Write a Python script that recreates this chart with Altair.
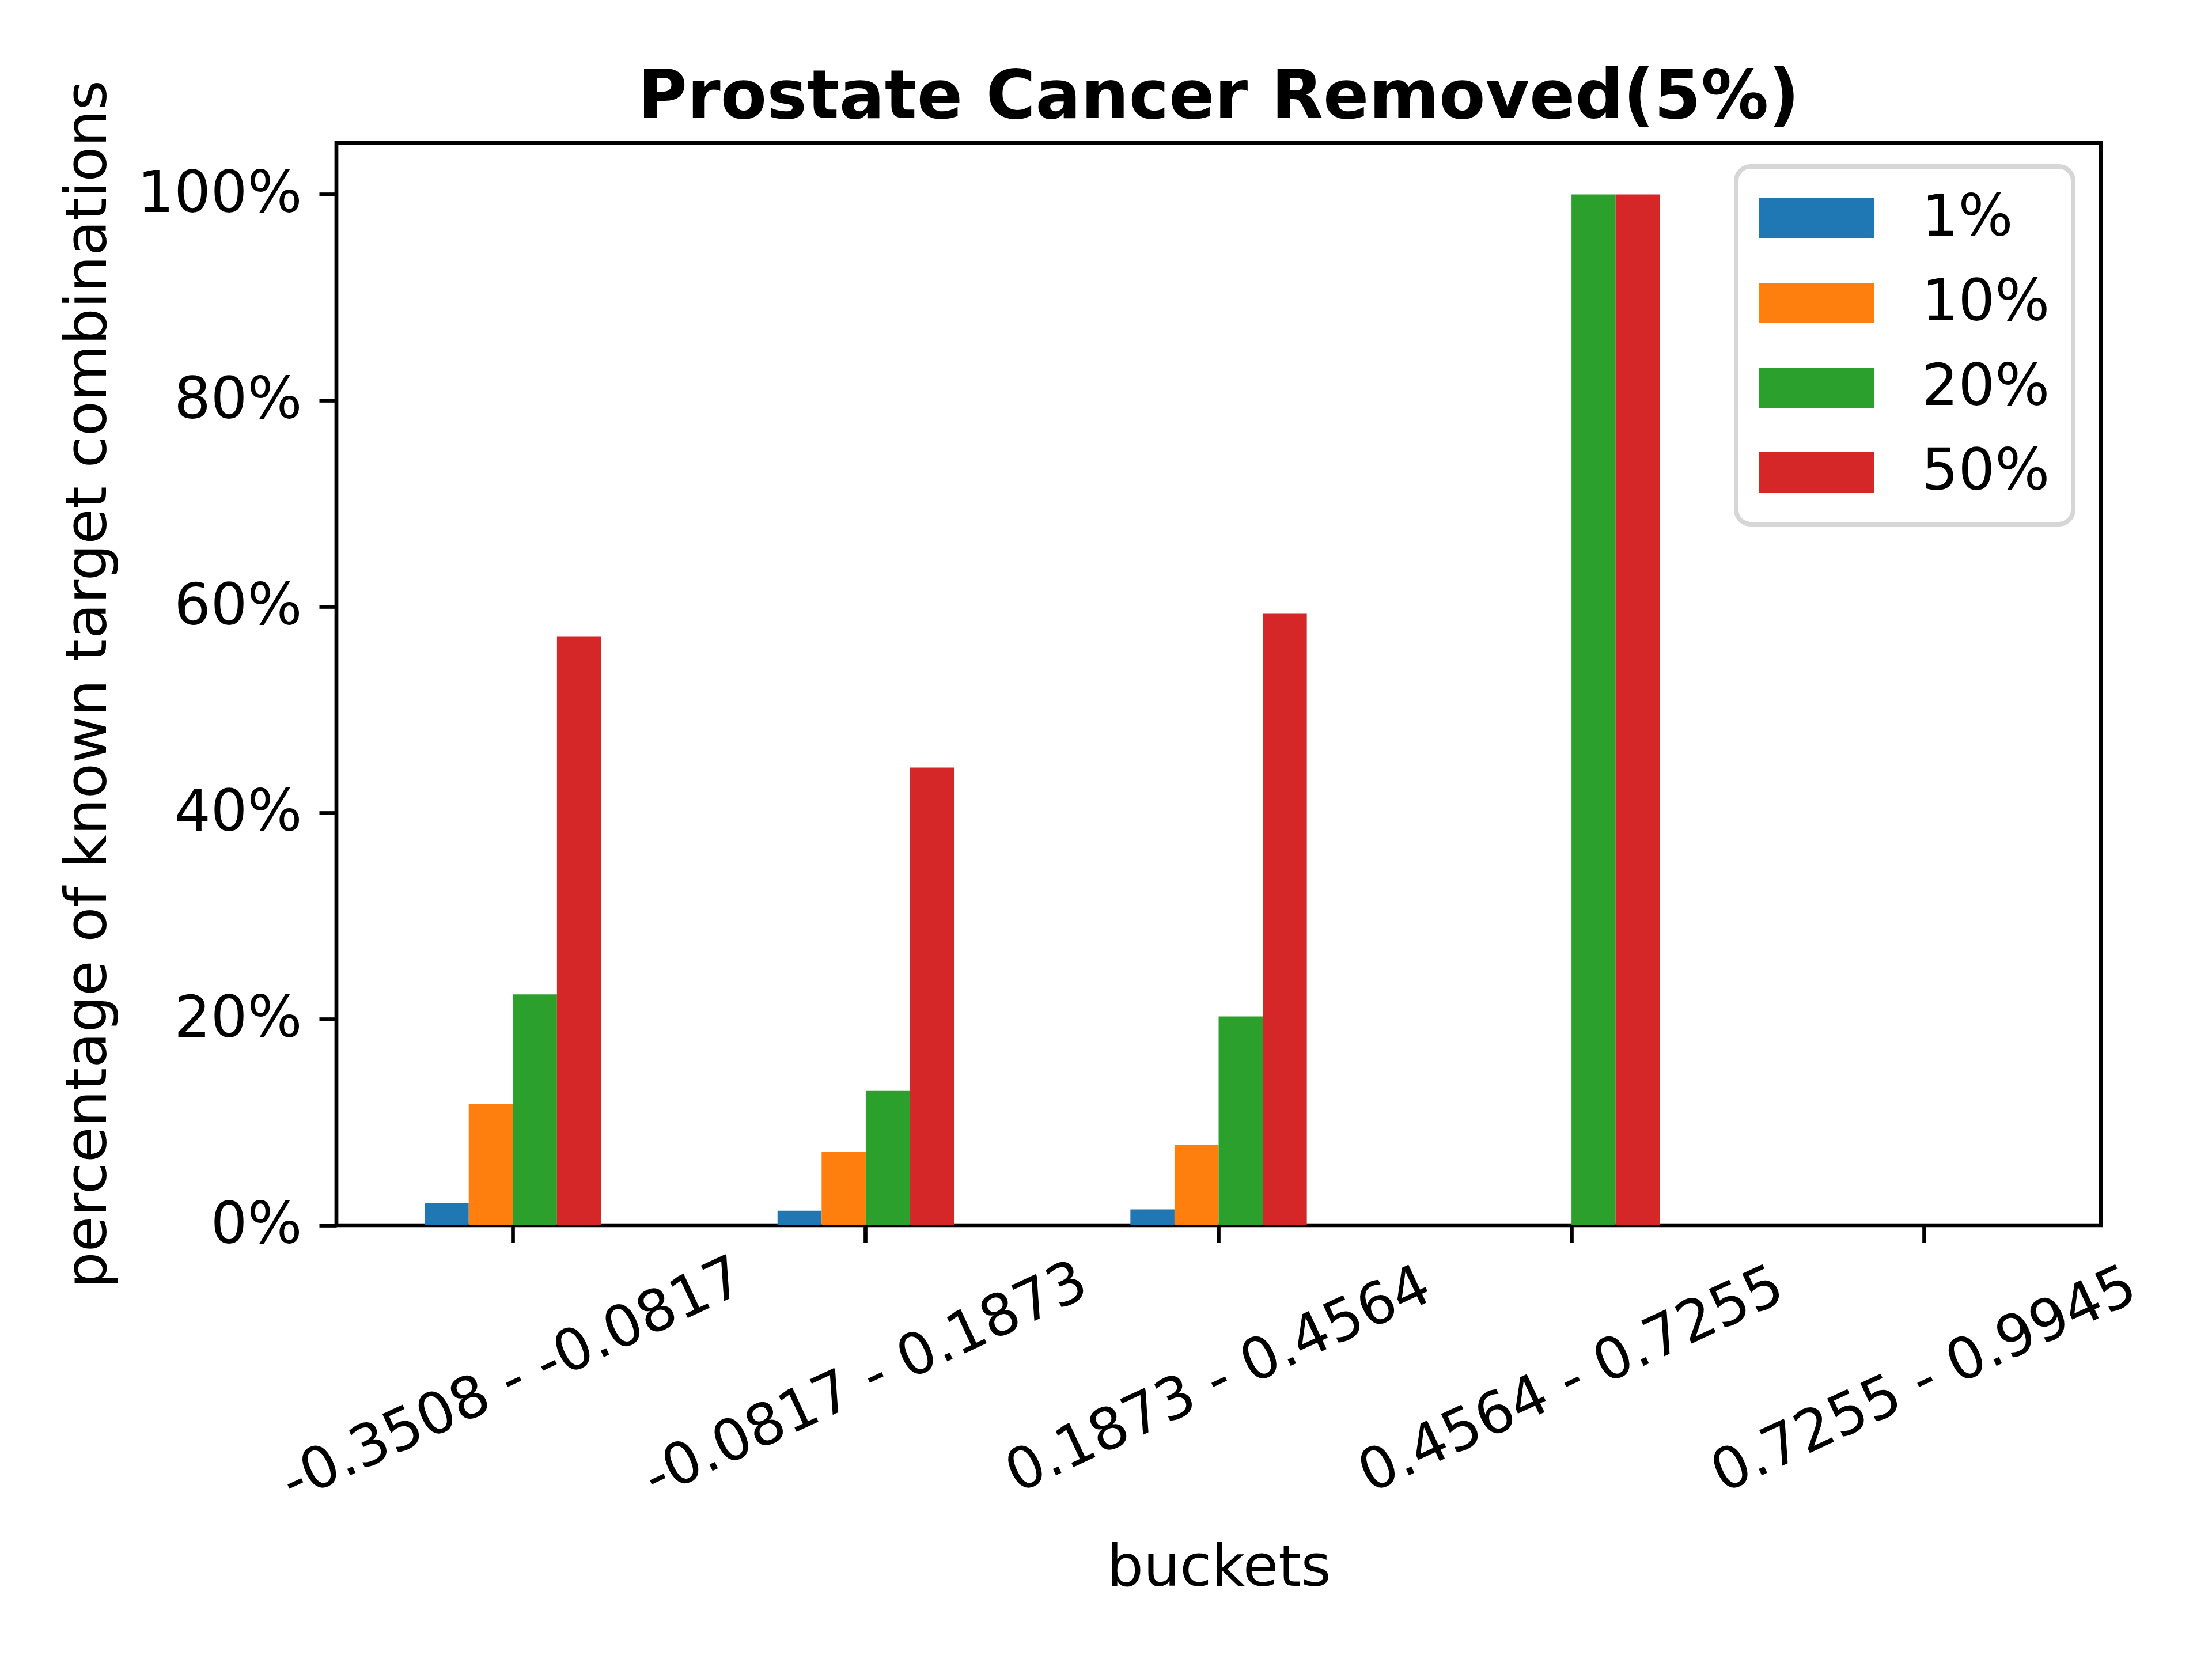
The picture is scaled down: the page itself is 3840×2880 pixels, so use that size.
import altair as alt
import pandas as pd

buckets = ["-0.3508 - -0.0817", "-0.0817 - 0.1873", "0.1873 - 0.4564",
           "0.4564 - 0.7255", "0.7255 - 0.9945"]
series = ["1%", "10%", "20%", "50%"]
vals_1 = [0.0214, 0.0141, 0.0154, 0.0, 0.0]
vals_10 = [0.1175, 0.0714, 0.0778, 0.0, 0.0]
vals_20 = [0.2240, 0.1303, 0.2026, 1.0, 0.0]
vals_50 = [0.5714, 0.4440, 0.5932, 1.0, 0.0]
colors = ["#1f77b4", "#ff7f0e", "#2ca02c", "#d62728"]
y_ticks = [0.0, 0.2, 0.4, 0.6, 0.8, 1.0]

rows = []
for s, vals in zip(series, [vals_1, vals_10, vals_20, vals_50]):
    for b, v in zip(buckets, vals):
        rows.append({"bucket": b, "series": s, "value": v})
df = pd.DataFrame(rows)

FONT = "DejaVu Sans"
W, H = 3063, 1879

chart = alt.Chart(df).mark_bar().encode(
    x=alt.X(
        "bucket:N", sort=buckets,
        scale=alt.Scale(paddingInner=0.5, paddingOuter=0.25),
        axis=alt.Axis(
            title="buckets", labelAngle=335, labelAlign="center",
            labelBaseline="middle", labelPadding=239, labelFontSize=100,
            labelFont=FONT, labelColor="black", labelLimit=2000,
            titleFont=FONT, titleFontSize=100, titleFontWeight="normal",
            titleColor="black", tickSize=30, tickWidth=6.7, tickColor="black",
            bandPosition=0.5, labelOverlap=False, labelBound=False,
            labelFlush=False, titleX=W / 2, titleY=625,
            titleBaseline="alphabetic", titleAlign="center",
            domain=False, grid=False,
        ),
    ),
    xOffset=alt.XOffset("series:N", sort=series),
    y=alt.Y(
        "value:Q",
        scale=alt.Scale(domain=[0, 1.05], nice=False, zero=True),
        axis=alt.Axis(
            title="percentage of known target combinations", values=y_ticks,
            format=".0%", labelFontSize=100, labelFont=FONT, labelColor="black",
            labelLimit=2000, labelPadding=30, tickSize=30, tickWidth=6.7,
            tickColor="black", titleFont=FONT, titleFontSize=100,
            titleFontWeight="normal", titleColor="black", titleLimit=5000,
            titleAngle=270, titleX=-401, titleY=H / 2,
            titleBaseline="alphabetic", titleAlign="center",
            domain=False, grid=False, labelOverlap=False, labelFlush=False,
        ),
    ),
    color=alt.Color(
        "series:N", sort=series,
        scale=alt.Scale(domain=series, range=colors),
        legend=alt.Legend(
            title=None, orient="none", legendX=2430, legendY=41,
            symbolType="M-2,-0.7L2,-0.7L2,0.7L-2,0.7Z", symbolSize=10000,
            symbolStrokeWidth=0, symbolOffset=50, labelOffset=132,
            labelFontSize=100, labelFont=FONT, labelColor="black",
            labelLimit=2000, symbolOpacity=1,
        ),
    ),
).properties(
    width=W, height=H, background="white",
    title=alt.TitleParams(
        "Prostate Cancer Removed(5%)", fontSize=117, fontWeight="bold",
        font=FONT, anchor="middle", frame="group", offset=50, dy=233,
        baseline="alphabetic", color="black", limit=5000,
    ),
    autosize=alt.AutoSizeParams(type="none"),
    padding={"left": 576, "top": 240, "right": 150, "bottom": 700},
).configure_view(
    stroke="black", strokeWidth=6.7
).configure_legend(
    rowPadding=47, padding=40, strokeColor="#d6d6d6", strokeWidth=8,
    cornerRadius=25, fillColor="white",
)

chart.save("out.html", embed_options={"renderer": "svg", "actions": False})
